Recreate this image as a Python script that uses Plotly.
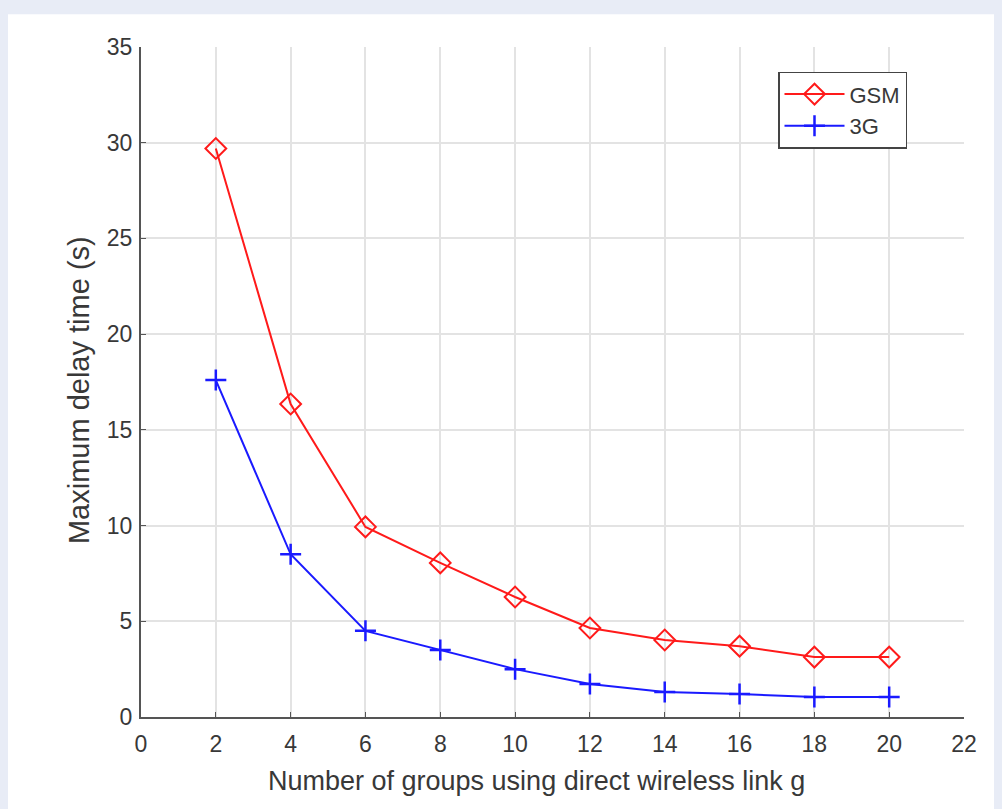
import plotly.graph_objects as go

groups = [2, 4, 6, 8, 10, 12, 14, 16, 18, 20]
gsm_delay = [29.7, 16.35, 9.93, 8.05, 6.27, 4.65, 4.02, 3.7, 3.13, 3.13]
g3_delay = [17.6, 8.5, 4.5, 3.5, 2.5, 1.72, 1.3, 1.2, 1.05, 1.05]
x_ticks = list(range(0, 23, 2))
y_ticks = list(range(0, 36, 5))
x_title = "Number of groups using direct wireless link g"
y_title = "Maximum delay time (s)"

fig = go.Figure()
fig.add_trace(go.Scatter(
    x=groups, y=gsm_delay, name="GSM", mode="lines+markers",
    line=dict(color="#ff1a1a", width=2),
    marker=dict(symbol="diamond-open", size=16, color="#ff1a1a", line=dict(width=2)),
))
fig.add_trace(go.Scatter(
    x=groups, y=g3_delay, name="3G", mode="lines+markers",
    line=dict(color="#1a1aff", width=2),
    marker=dict(symbol="cross-thin-open", size=15, color="#1a1aff", line=dict(width=2.5, color="#1a1aff")),
))

font = "Liberation Sans, Arial, sans-serif"
txt = "#383838"
# figure sits at page offset (8, 8) because of the default body margin
fig.update_layout(
    width=994, height=801, autosize=False,
    margin=dict(l=133, r=38, t=39, b=92),
    paper_bgcolor="#e8ecf6", plot_bgcolor="white",
    font=dict(family=font, color=txt),
    shapes=[dict(type="rect", xref="paper", yref="paper",
                 x0=-0.17, x1=1.06, y0=-0.15, y1=1.049,
                 fillcolor="white", line=dict(width=0), layer="below")],
    xaxis=dict(range=[0, 22], tickvals=x_ticks, showgrid=True, gridcolor="#e3e3e3",
               gridwidth=1.5, showline=True, linecolor="#555555", linewidth=2,
               ticks="inside", ticklen=5, tickcolor="#555555", zeroline=False,
               ticklabelstandoff=5,
               tickfont=dict(size=23, color=txt)),
    yaxis=dict(range=[0, 35], tickvals=y_ticks, showgrid=True, gridcolor="#e3e3e3",
               gridwidth=1.5, showline=True, linecolor="#555555", linewidth=2,
               ticks="inside", ticklen=5, tickcolor="#555555", zeroline=False,
               ticklabelstandoff=2,
               tickfont=dict(size=23, color=txt)),
    annotations=[
        dict(text=x_title, xref="paper", yref="paper", x=0.48, y=-0.0955,
             xanchor="center", yanchor="middle", showarrow=False,
             font=dict(size=27, color=txt)),
        dict(text=y_title, xref="paper", yref="paper", x=-0.0753, y=0.488,
             xanchor="center", yanchor="middle", showarrow=False, textangle=-90,
             font=dict(size=29, color=txt)),
    ],
    legend=dict(x=0.774, y=0.963, xanchor="left", yanchor="top",
                bgcolor="white", bordercolor="#444444", borderwidth=1.5,
                font=dict(size=22, color=txt), itemwidth=60,
                tracegroupgap=0),
    showlegend=True,
)
fig.write_html("out.html", post_script="document.body.style.background='#e8ecf6';")
